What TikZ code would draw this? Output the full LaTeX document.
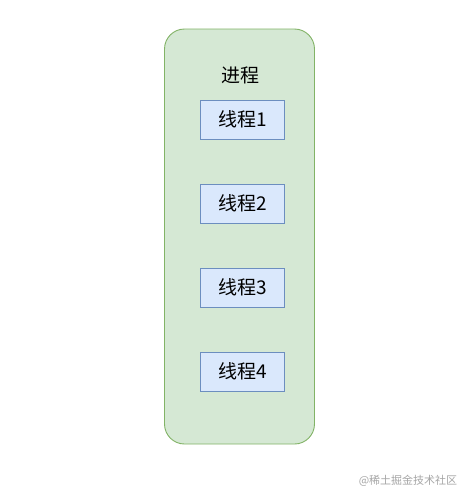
\documentclass[tikz,border=0pt]{standalone}
\usepackage{fontspec}
\newfontfamily\cjk{Noto Sans CJK SC}
\definecolor{procfill}{HTML}{D5E8D4}
\definecolor{procline}{HTML}{82B366}
\definecolor{thrfill}{HTML}{DAE8FC}
\definecolor{thrline}{HTML}{6C8EBF}
\begin{document}
\begin{tikzpicture}[
  x=1pt, y=-1pt,
  procbox/.style={draw=procline, fill=procfill, rounded corners=20pt,
    minimum width=150pt, minimum height=415pt, inner sep=0pt, line width=0.9pt},
  thrbox/.style={draw=thrline, fill=thrfill, minimum width=84pt,
    minimum height=39pt, inner sep=0pt, line width=0.9pt,
    font=\cjk\fontsize{19}{22}\selectfont},
  every node/.append style={text=black}
]
  \useasboundingbox (0,0) rectangle (468,499);
  \fill[white] (0,0) rectangle (468,499);
  \node[procbox] (proc) at (239.5,236.5) {};
  \node[font=\cjk\fontsize{19}{22}\selectfont] (proctitle) at (240,75) {进程};
  \foreach \i in {1,2,3,4} {
    \node[thrbox] (t\i) at (242.3,{119.5+(\i-1)*84}) {线程\i};
  }
  \node[font=\cjk\fontsize{11}{13}\selectfont, text=black!35] (mark) at (408,481) {@稀土掘金技术社区};
\end{tikzpicture}
\end{document}
